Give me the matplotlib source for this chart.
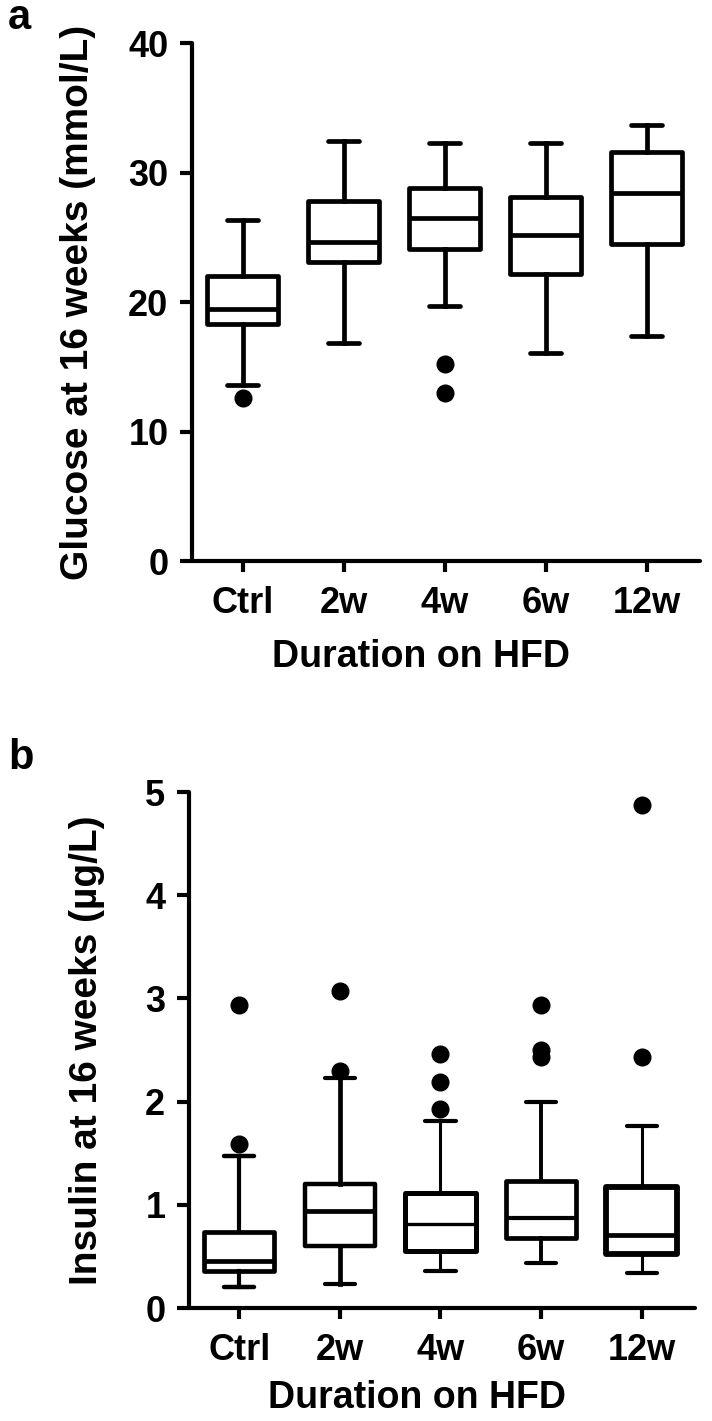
import matplotlib
matplotlib.use("Agg")
import matplotlib.pyplot as plt

plt.rcParams["font.family"] = ["Liberation Sans", "DejaVu Sans"]
plt.rcParams["font.weight"] = "bold"
plt.rcParams["axes.labelweight"] = "bold"

groups = ["Ctrl", "2w", "4w", "6w", "12w"]

# glucose at 16 weeks (mmol/L)
glu_whislo = [13.6, 16.8, 19.7, 16.1, 17.4]
glu_q1 = [18.3, 23.1, 24.1, 22.2, 24.5]
glu_med = [19.5, 24.6, 26.5, 25.2, 28.4]
glu_q3 = [22.0, 27.8, 28.8, 28.1, 31.6]
glu_whishi = [26.3, 32.4, 32.3, 32.3, 33.7]
glu_fliers = [[12.6], [], [15.2, 13.0], [], []]

# insulin at 16 weeks (ug/L)
ins_whislo = [0.20, 0.23, 0.36, 0.44, 0.34]
ins_q1 = [0.36, 0.60, 0.55, 0.68, 0.52]
ins_med = [0.46, 0.94, 0.81, 0.87, 0.71]
ins_q3 = [0.74, 1.20, 1.11, 1.23, 1.17]
ins_whishi = [1.47, 2.23, 1.81, 2.00, 1.76]
ins_fliers = [[1.59, 2.94], [2.30, 3.07], [1.93, 2.19, 2.46],
              [2.43, 2.50, 2.94], [2.43, 4.87]]


def make_stats(lo, q1, med, q3, hi, fl):
    return [dict(label=g, whislo=a, q1=b, med=c, q3=d, whishi=e, fliers=f)
            for g, a, b, c, d, e, f in zip(groups, lo, q1, med, q3, hi, fl)]


def style_axis(ax, ylim, yticks):
    ax.set_xlim(0.5, 5.53)
    ax.set_ylim(*ylim)
    ax.set_yticks(yticks)
    ax.set_xticks(range(1, 6))
    ax.set_xticklabels(groups)
    for s in ("top", "right"):
        ax.spines[s].set_visible(False)
    for s in ("left", "bottom"):
        ax.spines[s].set_linewidth(3.0)
        ax.spines[s].set_capstyle("round")
    ax.tick_params(axis="y", length=9, width=3, pad=8, labelsize=26)
    ax.tick_params(axis="x", length=8, width=3, pad=10, labelsize=26)


def draw(ax, stats, box_lw, med_lw, whisk_lw, cap_lw):
    for i, st in enumerate(stats):
        ax.bxp([st], positions=[i + 1], widths=0.7, capwidths=0.3,
               patch_artist=True, manage_ticks=False,
               boxprops=dict(facecolor="white", edgecolor="black",
                             linewidth=box_lw[i], joinstyle="round"),
               medianprops=dict(color="black", linewidth=med_lw[i],
                                solid_capstyle="butt"),
               whiskerprops=dict(color="black", linewidth=whisk_lw[i]),
               capprops=dict(color="black", linewidth=cap_lw[i],
                             solid_capstyle="round"),
               flierprops=dict(marker="o", markerfacecolor="black",
                               markeredgecolor="black", markersize=12,
                               zorder=4))


fig = plt.figure(figsize=(7.12, 14.21), dpi=100)

ax1 = fig.add_axes([0.2697, 0.6052, 0.7135, 0.3645])
draw(ax1, make_stats(glu_whislo, glu_q1, glu_med, glu_q3, glu_whishi, glu_fliers),
     [3.4] * 5, [3.4] * 5, [3.4] * 5, [3.4] * 5)
style_axis(ax1, (0, 40), [0, 10, 20, 30, 40])
ax1.set_ylabel("Glucose at 16 weeks (mmol/L)", fontsize=28)
ax1.yaxis.set_label_coords(-0.19, 0.5)
ax1.set_xlabel("Duration on HFD", fontsize=27)
ax1.xaxis.set_label_coords(0.45, -0.15)

ax2 = fig.add_axes([0.2654, 0.0795, 0.7107, 0.3631])
draw(ax2, make_stats(ins_whislo, ins_q1, ins_med, ins_q3, ins_whishi, ins_fliers),
     [3.4, 3.2, 3.6, 3.4, 4.2], [3.4, 3.4, 2.4, 3.0, 3.4],
     [3.0, 3.4, 2.2, 2.8, 2.2], [3.2, 3.0, 3.0, 3.0, 3.0])
style_axis(ax2, (0, 5), [0, 1, 2, 3, 4, 5])
ax2.set_ylabel("Insulin at 16 weeks (\u00b5g/L)", fontsize=28)
ax2.yaxis.set_label_coords(-0.165, 0.5)
ax2.set_xlabel("Duration on HFD", fontsize=27)
ax2.xaxis.set_label_coords(0.45, -0.14)

fig.text(8 / 712, 1 - 18 / 1421, "a", fontsize=30, fontweight="bold",
         ha="left", va="center")
fig.text(8 / 712, 1 - 758 / 1421, "b", fontsize=30, fontweight="bold",
         ha="left", va="center")

fig.savefig("out.png", dpi=100)
